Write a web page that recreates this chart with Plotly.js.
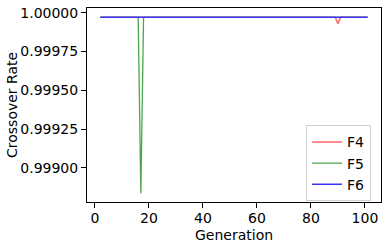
<!DOCTYPE html>
<html>
<head>
<meta charset="utf-8">
<script src="https://cdn.plot.ly/plotly-3.0.1.min.js"></script>
<style>html,body{margin:0;padding:0;background:#fff;}#chart{width:388px;height:246px;}</style>
</head>
<body>
<div id="chart"></div>
<script>
const generations = [
  2,3,4,5,6,7,8,9,10,11,
  12,13,14,15,16,17,18,19,20,21,
  22,23,24,25,26,27,28,29,30,31,
  32,33,34,35,36,37,38,39,40,41,
  42,43,44,45,46,47,48,49,50,51,
  52,53,54,55,56,57,58,59,60,61,
  62,63,64,65,66,67,68,69,70,71,
  72,73,74,75,76,77,78,79,80,81,
  82,83,84,85,86,87,88,89,90,91,
  92,93,94,95,96,97,98,99,100,101
];
const f4 = [
  0.99997,0.99997,0.99997,0.99997,0.99997,0.99997,0.99997,0.99997,0.99997,0.99997,
  0.99997,0.99997,0.99997,0.99997,0.99997,0.99997,0.99997,0.99997,0.99997,0.99997,
  0.99997,0.99997,0.99997,0.99997,0.99997,0.99997,0.99997,0.99997,0.99997,0.99997,
  0.99997,0.99997,0.99997,0.99997,0.99997,0.99997,0.99997,0.99997,0.99997,0.99997,
  0.99997,0.99997,0.99997,0.99997,0.99997,0.99997,0.99997,0.99997,0.99997,0.99997,
  0.99997,0.99997,0.99997,0.99997,0.99997,0.99997,0.99997,0.99997,0.99997,0.99997,
  0.99997,0.99997,0.99997,0.99997,0.99997,0.99997,0.99997,0.99997,0.99997,0.99997,
  0.99997,0.99997,0.99997,0.99997,0.99997,0.99997,0.99997,0.99997,0.99997,0.99997,
  0.99997,0.99997,0.99997,0.99997,0.99997,0.99997,0.99997,0.99997,0.999928,0.99997,
  0.99997,0.99997,0.99997,0.99997,0.99997,0.99997,0.99997,0.99997,0.99997,0.99997
];
const f5 = [
  0.99997,0.99997,0.99997,0.99997,0.99997,0.99997,0.99997,0.99997,0.99997,0.99997,
  0.99997,0.99997,0.99997,0.99997,0.99997,0.998838,0.99997,0.99997,0.99997,0.99997,
  0.99997,0.99997,0.99997,0.99997,0.99997,0.99997,0.99997,0.99997,0.99997,0.99997,
  0.99997,0.99997,0.99997,0.99997,0.99997,0.99997,0.99997,0.99997,0.99997,0.99997,
  0.99997,0.99997,0.99997,0.99997,0.99997,0.99997,0.99997,0.99997,0.99997,0.99997,
  0.99997,0.99997,0.99997,0.99997,0.99997,0.99997,0.99997,0.99997,0.99997,0.99997,
  0.99997,0.99997,0.99997,0.99997,0.99997,0.99997,0.99997,0.99997,0.99997,0.99997,
  0.99997,0.99997,0.99997,0.99997,0.99997,0.99997,0.99997,0.99997,0.99997,0.99997,
  0.99997,0.99997,0.99997,0.99997,0.99997,0.99997,0.99997,0.99997,0.99997,0.99997,
  0.99997,0.99997,0.99997,0.99997,0.99997,0.99997,0.99997,0.99997,0.99997,0.99997
];
const f6 = [
  0.99997,0.99997,0.99997,0.99997,0.99997,0.99997,0.99997,0.99997,0.99997,0.99997,
  0.99997,0.99997,0.99997,0.99997,0.99997,0.99997,0.99997,0.99997,0.99997,0.99997,
  0.99997,0.99997,0.99997,0.99997,0.99997,0.99997,0.99997,0.99997,0.99997,0.99997,
  0.99997,0.99997,0.99997,0.99997,0.99997,0.99997,0.99997,0.99997,0.99997,0.99997,
  0.99997,0.99997,0.99997,0.99997,0.99997,0.99997,0.99997,0.99997,0.99997,0.99997,
  0.99997,0.99997,0.99997,0.99997,0.99997,0.99997,0.99997,0.99997,0.99997,0.99997,
  0.99997,0.99997,0.99997,0.99997,0.99997,0.99997,0.99997,0.99997,0.99997,0.99997,
  0.99997,0.99997,0.99997,0.99997,0.99997,0.99997,0.99997,0.99997,0.99997,0.99997,
  0.99997,0.99997,0.99997,0.99997,0.99997,0.99997,0.99997,0.99997,0.99997,0.99997,
  0.99997,0.99997,0.99997,0.99997,0.99997,0.99997,0.99997,0.99997,0.99997,0.99997
];
const seriesNames = ["F4", "F5", "F6"];
const xTicks = [0, 20, 40, 60, 80, 100];
const yTicks = [0.999, 0.99925, 0.9995, 0.99975, 1.0];
const xTitle = "Generation";
const yTitle = "Crossover Rate";

const font = {family: "DejaVu Sans", size: 14, color: "#000"};
const traces = [
  {x: generations, y: f4, name: seriesNames[0], type: "scatter", mode: "lines", line: {color: "rgba(255,0,0,0.6)", width: 1.5}},
  {x: generations, y: f5, name: seriesNames[1], type: "scatter", mode: "lines", line: {color: "rgba(0,128,0,0.7)", width: 1.3}},
  {x: generations, y: f6, name: seriesNames[2], type: "scatter", mode: "lines", line: {color: "#3636ff", width: 1.5}}
];
const layout = {
  width: 388, height: 246,
  margin: {l: 87, r: 7, t: 8, b: 44, pad: 0},
  paper_bgcolor: "#fff", plot_bgcolor: "#fff",
  font: font,
  showlegend: true,
  legend: {x: 0.745, y: 0.395, xanchor: "left", yanchor: "top", bgcolor: "rgba(255,255,255,0.8)",
           bordercolor: "#d0d0d0", borderwidth: 1, font: font, tracegroupgap: 0},
  xaxis: {
    range: [-2.95, 105.95], tickvals: xTicks, ticktext: xTicks.map(String),
    showgrid: false, zeroline: false, showline: true, linecolor: "#000", linewidth: 1, mirror: true,
    ticks: "outside", ticklen: 5, tickcolor: "#000", tickwidth: 1, tickfont: font, ticklabelstandoff: -2
  },
  yaxis: {
    range: [0.998781, 1.0000297], tickvals: yTicks, ticktext: yTicks.map(v => v.toFixed(5)),
    showgrid: false, zeroline: false, showline: true, linecolor: "#000", linewidth: 1, mirror: true,
    ticks: "outside", ticklen: 5, tickcolor: "#000", tickwidth: 1, tickfont: font
  },
  annotations: [
    {text: xTitle, xref: "paper", yref: "paper", x: 0.5, y: -0.1705, xanchor: "center", yanchor: "middle",
     showarrow: false, borderpad: 0, font: font},
    {text: yTitle, xref: "paper", yref: "paper", x: -0.2551, y: 0.5, xanchor: "center", yanchor: "middle",
     textangle: -90, showarrow: false, borderpad: 0, font: font}
  ]
};
Plotly.newPlot("chart", traces, layout, {displayModeBar: false, staticPlot: true});
</script>
</body>
</html>
